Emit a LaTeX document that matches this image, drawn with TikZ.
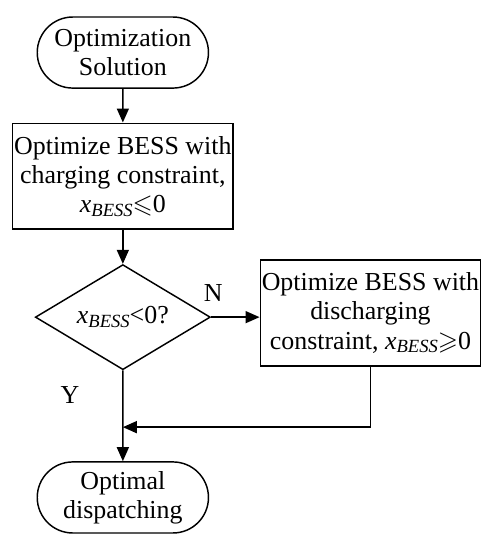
\documentclass[tikz,border=0pt]{standalone}
\usepackage{amsmath,amssymb}
\usepackage{fontspec}
\setmainfont{Liberation Serif}
\usepackage{tikz}
\usetikzlibrary{positioning,calc,arrows.meta,shapes.geometric,shapes.misc}

\newcommand{\xb}{\textit{x}\raisebox{-0.3ex}{\fontsize{14}{14}\selectfont\textit{BESS}}}

\begin{document}
\begin{tikzpicture}[line width=1.1pt,
    every node/.style={font=\fontsize{19.5}{22}\selectfont},
    term/.style={rounded rectangle,draw,minimum width=4.6cm,minimum height=1.88cm,align=center,inner sep=1pt},
    proc/.style={rectangle,draw,minimum width=5.83cm,minimum height=2.8cm,align=center,inner sep=1pt},
    decide/.style={diamond,draw,minimum width=4.63cm,minimum height=2.78cm,inner sep=0pt,aspect=1.67},
    flow/.style={-{Triangle[length=10.5pt,width=9pt]}}]

\useasboundingbox (0,0) rectangle (13.12,-14.55);

% Blocs
\node[term] (start) at (3.25,-1.39) {Optimization\\Solution};
\node[proc] (charge) at (3.25,-4.66) {Optimize BESS with\\charging constraint,\\\xb$\leqslant$0};
\node[decide] (test) at (3.25,-8.39) {\xb<0?};
\node[proc] (discharge) at (9.80,-8.28) {Optimize BESS with\\discharging\\constraint, \xb$\geqslant$0};
\node[term] (stop) at (3.25,-13.16) {Optimal\\dispatching};
\coordinate (merge) at (3.25,-11.30);

% Liaisons
\draw[flow] (start) -- (charge);
\draw[flow] (charge) -- (test);
\draw[flow] (test.east) -- (test.east -| discharge.west);
\draw[flow] (test) -- (stop);
\draw[flow] (discharge.south) -- (discharge.south |- merge) -- (merge);

% Etiquettes
\node (no) at (5.64,-7.75) {N};
\node (yes) at (1.85,-10.45) {Y};

\end{tikzpicture}
\end{document}
